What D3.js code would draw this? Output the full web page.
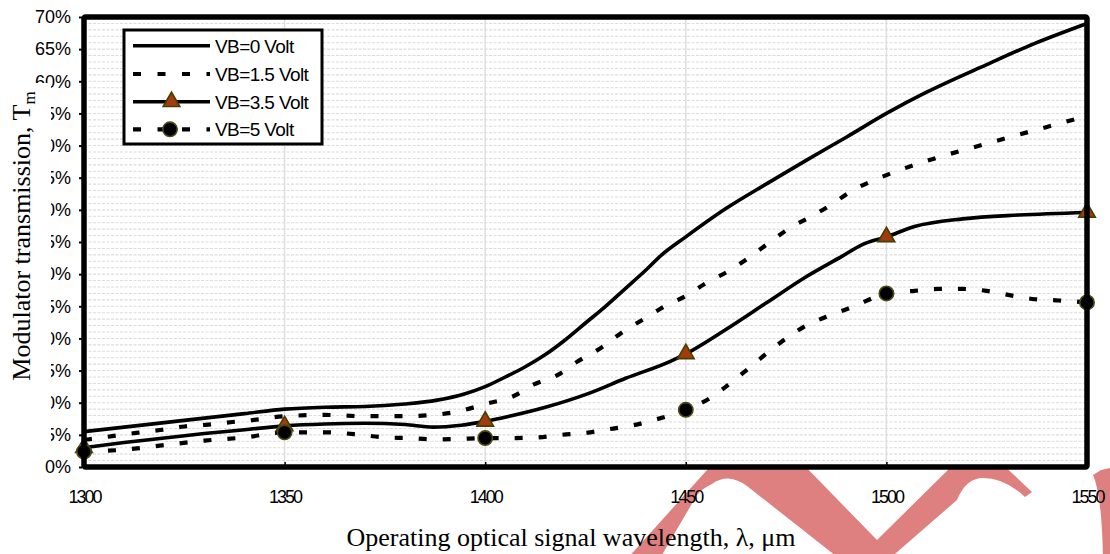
<!DOCTYPE html>
<html>
<head>
<meta charset="utf-8">
<script src="https://cdn.jsdelivr.net/npm/d3@7"></script>
<style>
  html, body { margin: 0; padding: 0; background: #fff; }
  svg { display: block; }
</style>
</head>
<body>
<svg id="chart" width="1110" height="554"></svg>
<script>
// Modulator transmission (%) versus operating wavelength (nm scale as labelled)
const seriesNames = ["VB=0 Volt", "VB=1.5 Volt", "VB=3.5 Volt", "VB=5 Volt"];

const lambdaVB0 = [1300,1310,1320,1330,1340,1350,1360,1370,1380,1388,1395,1400,1405,1410,1415,1420,1425,1430,1435,1440,1444,1450,1460,1470,1480,1490,1500,1510,1525,1537,1550];
const transVB0  = [5.5,6.2,6.9,7.6,8.3,9.0,9.3,9.4,9.8,10.4,11.4,12.5,14.0,15.6,17.5,19.8,22.4,25.0,27.8,30.6,33.0,35.8,40.2,44.0,47.7,51.3,55.0,58.3,62.6,65.9,69.0];

const lambdaVB15 = [1300,1307,1313,1319,1325,1331,1337,1342,1350,1360,1370,1380,1387,1393,1400,1407,1412,1418,1423,1429,1434,1440,1445,1450,1455,1461,1466,1471,1476,1481,1486,1491,1500,1510,1525,1540,1550];
const transVB15  = [4.2,4.8,5.3,5.75,6.3,6.6,7.0,7.3,7.9,8.1,7.9,7.9,8.1,8.6,9.8,11.0,12.8,14.3,16.4,18.6,20.9,23.2,25.1,26.6,28.6,30.6,32.7,35.0,37.2,38.9,40.7,42.8,45.4,47.6,50.3,52.9,54.6];

const lambdaVB35 = [1300,1310,1320,1330,1340,1350,1360,1370,1380,1387,1394,1400,1406,1415,1426,1435,1446,1450,1460,1470,1480,1489,1494,1500,1507,1519,1533,1550];
const transVB35  = [3.0,3.8,4.5,5.2,5.8,6.4,6.7,6.8,6.6,6.2,6.5,7.1,7.9,9.3,11.5,13.8,16.4,17.6,21.4,25.5,29.6,32.8,34.6,35.8,37.4,38.6,39.2,39.6];

const lambdaVB5 = [1300,1310,1320,1330,1340,1350,1360,1369,1375,1381,1387,1393,1400,1407,1413,1419,1425,1431,1437,1442,1450,1456,1460,1465,1470,1475,1480,1486,1492,1500,1507,1513,1519,1525,1531,1537,1543,1550];
const transVB5  = [2.4,2.7,3.4,4.1,4.6,5.4,5.4,5.0,4.6,4.5,4.3,4.35,4.5,4.5,4.6,5.0,5.3,5.9,6.5,7.3,8.9,10.7,12.5,15.0,17.6,20.0,22.0,23.6,25.0,27.0,27.4,27.7,27.7,27.4,26.7,26.1,25.9,25.6];

// wavelengths carrying symbols on the 3.5 V and 5 V curves
const markerLambdas = [1300, 1350, 1400, 1450, 1500, 1550];

const xTicks = [1300, 1350, 1400, 1450, 1500, 1550];
const yTicks = [0, 5, 10, 15, 20, 25, 30, 35, 40, 45, 50, 55, 60, 65, 70];
const yGrid = d3.range(1, 70, 1);

const svg = d3.select("#chart");
const plot = { left: 84, right: 1087, top: 17, bottom: 467 };

const x = d3.scaleLinear().domain([1300, 1550]).range([plot.left, plot.right]);
const y = d3.scaleLinear().domain([0, 70]).range([plot.bottom, plot.top]);

// background ornament in the lower margin (sits under the plot area)
const ornament = svg.append("g").attr("fill", "#de8080");
ornament.append("path")
  .attr("d", "M626,560 L716,460 L799,460 L877,540 L958,460 L998,460 L1032,492 L1025,497 Q1005,478 983,478 Q966,478 957,500 L888,560 L841,560 L747,486 Q728,472 712,484 Q703,488 697,495 L659,560 Z");
ornament.append("path")
  .attr("d", "M1093,475 L1101,470 L1115,467 L1115,560 L1103,560 Q1102,495 1093,475 Z");

// plot background
svg.append("rect")
  .attr("x", plot.left).attr("y", plot.top)
  .attr("width", plot.right - plot.left).attr("height", plot.bottom - plot.top)
  .attr("fill", "#fff");

// grid
const grid = svg.append("g");
grid.selectAll("line.h").data(yGrid).join("line")
  .attr("class", "h")
  .attr("x1", plot.left).attr("x2", plot.right)
  .attr("y1", d => y(d)).attr("y2", d => y(d))
  .attr("stroke", "#dcdcdc").attr("stroke-width", 1.1)
  .attr("stroke-dasharray", "3,1.5");
grid.selectAll("line.v").data(xTicks.slice(1, -1)).join("line")
  .attr("class", "v")
  .attr("x1", d => x(d)).attr("x2", d => x(d))
  .attr("y1", plot.top).attr("y2", plot.bottom)
  .attr("stroke", "#dedede").attr("stroke-width", 1.5);

// series
const line = d3.line().x(d => x(d[0])).y(d => y(d[1])).curve(d3.curveMonotoneX);
const zip = (a, b) => a.map((v, i) => [v, b[i]]);

const series = [
  { pts: zip(lambdaVB0, transVB0), dash: null },
  { pts: zip(lambdaVB15, transVB15), dash: "8,16" },
  { pts: zip(lambdaVB35, transVB35), dash: null },
  { pts: zip(lambdaVB5, transVB5), dash: "8,16" }
];

const lines = svg.append("g");
series.forEach(s => {
  lines.append("path")
    .attr("d", line(s.pts))
    .attr("fill", "none")
    .attr("stroke", "#000")
    .attr("stroke-width", s.dash ? 4.2 : 3.6)
    .attr("stroke-linejoin", "round")
    .attr("stroke-dasharray", s.dash);
});

const valueAt = (lams, vals, l) => vals[lams.indexOf(l)];
const triangle = d3.symbol().type(d3.symbolTriangle).size(120);

const marks = svg.append("g");
marks.selectAll("path.tri").data(markerLambdas).join("path")
  .attr("class", "tri")
  .attr("d", triangle)
  .attr("transform", d => `translate(${x(d)},${y(valueAt(lambdaVB35, transVB35, d))})`)
  .attr("fill", "#a43b0c").attr("stroke", "#434000").attr("stroke-width", 1.6);
marks.selectAll("circle").data(markerLambdas).join("circle")
  .attr("cx", d => x(d)).attr("cy", d => y(valueAt(lambdaVB5, transVB5, d)))
  .attr("r", 7.2)
  .attr("fill", "#000").attr("stroke", "#4d4b12").attr("stroke-width", 1.6);

// frame
svg.append("rect")
  .attr("x", plot.left).attr("y", plot.top)
  .attr("width", plot.right - plot.left).attr("height", plot.bottom - plot.top)
  .attr("fill", "none").attr("stroke", "#000").attr("stroke-width", 5.5)
  .attr("rx", 1.5);

// axes
const yAxis = svg.append("g")
  .attr("transform", `translate(${plot.left - 2},0)`)
  .call(d3.axisLeft(y).tickValues(yTicks).tickFormat(d => d + "%").tickSize(3).tickPadding(8));
yAxis.select(".domain").remove();
yAxis.selectAll("line").attr("stroke", "#000").attr("stroke-width", 2);
yAxis.selectAll("text")
  .attr("font-family", "Liberation Sans, Arial, sans-serif")
  .attr("font-size", 18).attr("fill", "#000");

const xAxis = svg.append("g")
  .attr("transform", `translate(0,${plot.bottom})`)
  .call(d3.axisBottom(x).tickValues(xTicks).tickFormat(d3.format("d")).tickSizeInner(-5).tickSizeOuter(0).tickPadding(23));
xAxis.select(".domain").remove();
xAxis.selectAll("line").attr("stroke", "#000").attr("stroke-width", 1.5);
xAxis.selectAll("text")
  .attr("font-family", "Liberation Sans, Arial, sans-serif")
  .attr("font-size", 18).attr("letter-spacing", "-2px").attr("fill", "#000");

// legend
const legend = svg.append("g");
legend.append("rect")
  .attr("x", 124).attr("y", 30).attr("width", 198).attr("height", 114)
  .attr("fill", "#fff").attr("stroke", "#000").attr("stroke-width", 3);
const rowY = [45.7, 74, 101.7, 129.3];
seriesNames.forEach((name, i) => {
  legend.append("line")
    .attr("x1", 133).attr("x2", 210)
    .attr("y1", rowY[i]).attr("y2", rowY[i])
    .attr("stroke", "#000")
    .attr("stroke-width", series[i].dash ? 4.2 : 3.6)
    .attr("stroke-dasharray", series[i].dash ? "8,16.5" : null);
  legend.append("text")
    .attr("x", 215).attr("y", rowY[i]).attr("dy", "0.36em")
    .attr("font-family", "Liberation Sans, Arial, sans-serif")
    .attr("font-size", 19).attr("letter-spacing", "-0.6px")
    .text(name);
});
legend.append("path")
  .attr("d", triangle)
  .attr("transform", `translate(171.5,${rowY[2]})`)
  .attr("fill", "#a43b0c").attr("stroke", "#434000").attr("stroke-width", 1.6);
legend.append("circle")
  .attr("cx", 170).attr("cy", rowY[3]).attr("r", 7.2)
  .attr("fill", "#000").attr("stroke", "#4d4b12").attr("stroke-width", 1.6);

// y-axis title with its backing box
svg.append("rect")
  .attr("x", 0).attr("y", 83).attr("width", 51).attr("height", 367)
  .attr("fill", "#fff");
const yTitle = svg.append("text")
  .attr("transform", "translate(30,236) rotate(-90)")
  .attr("text-anchor", "middle")
  .attr("font-family", "Liberation Serif, Times New Roman, serif")
  .attr("font-size", 26).attr("fill", "#000");
yTitle.append("tspan").text("Modulator transmission, T");
yTitle.append("tspan").attr("font-size", 17).attr("dy", 5).text("m");

// x-axis title
svg.append("text")
  .attr("x", 571).attr("y", 546)
  .attr("text-anchor", "middle")
  .attr("font-family", "Liberation Serif, Times New Roman, serif")
  .attr("font-size", 26).attr("fill", "#000")
  .text("Operating optical signal wavelength, λ, μm");
</script>
</body>
</html>
